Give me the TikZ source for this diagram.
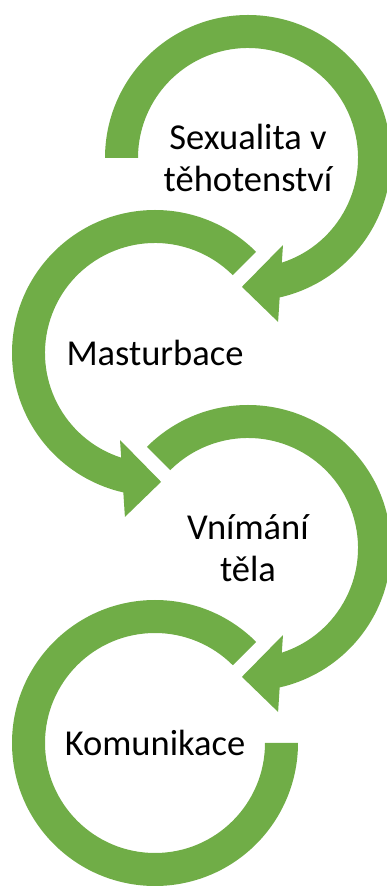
\documentclass[tikz,border=0pt]{standalone}
\usepackage{fontspec}
\setmainfont{Carlito}
\definecolor{ringgreen}{RGB}{112, 173, 71}
\usepackage{tikz}

\begin{document}
\begin{tikzpicture}[x=1pt, y=1pt,
        ring/.style={fill=ringgreen, draw=none},
        steplabel/.style={font=\fontsize{36.5}{42}\selectfont, align=center, text=black}]
        \useasboundingbox (0,0) rectangle (387,887);

        % Ring 1 (clockwise, arrow into ring 2)
        \begin{scope}[shift={(248,729)}]
            \fill[ring] (180:143) arc[start angle=180, end angle=-77.2, radius=143]
                -- (-79.6:166.7) -- (-92.7:129) -- (-68.1:93.8) -- (-72.1:110)
                arc[start angle=-72.1, end angle=180, radius=110] -- cycle;
            \node[steplabel] (sexualita) at (0,0) {Sexualita v\\těhotenství};
        \end{scope}

        % Ring 2 (counter-clockwise, arrow into ring 3)
        \begin{scope}[shift={(155,534)}]
            \fill[ring] (45:143) arc[start angle=45, end angle=257.2, radius=143]
                -- (259.6:166.7) -- (272.7:129) -- (248.1:93.8) -- (252.1:110)
                arc[start angle=252.1, end angle=45, radius=110] -- cycle;
            \node[steplabel] (masturbace) at (0,0) {Masturbace};
        \end{scope}

        % Ring 3 (clockwise, arrow into ring 4)
        \begin{scope}[shift={(248,339)}]
            \fill[ring] (135:143) arc[start angle=135, end angle=-77.2, radius=143]
                -- (-79.6:166.7) -- (-92.7:129) -- (-68.1:93.8) -- (-72.1:110)
                arc[start angle=-72.1, end angle=135, radius=110] -- cycle;
            \node[steplabel] (vnimani) at (0,0) {Vnímání\\těla};
        \end{scope}

        % Ring 4 (open end, no arrow)
        \begin{scope}[shift={(155,144)}]
            \fill[ring] (45:143) arc[start angle=45, end angle=360, radius=143]
                -- (0:110) arc[start angle=360, end angle=45, radius=110] -- cycle;
            \node[steplabel] (komunikace) at (0,0) {Komunikace};
        \end{scope}
    \end{tikzpicture}
\end{document}
